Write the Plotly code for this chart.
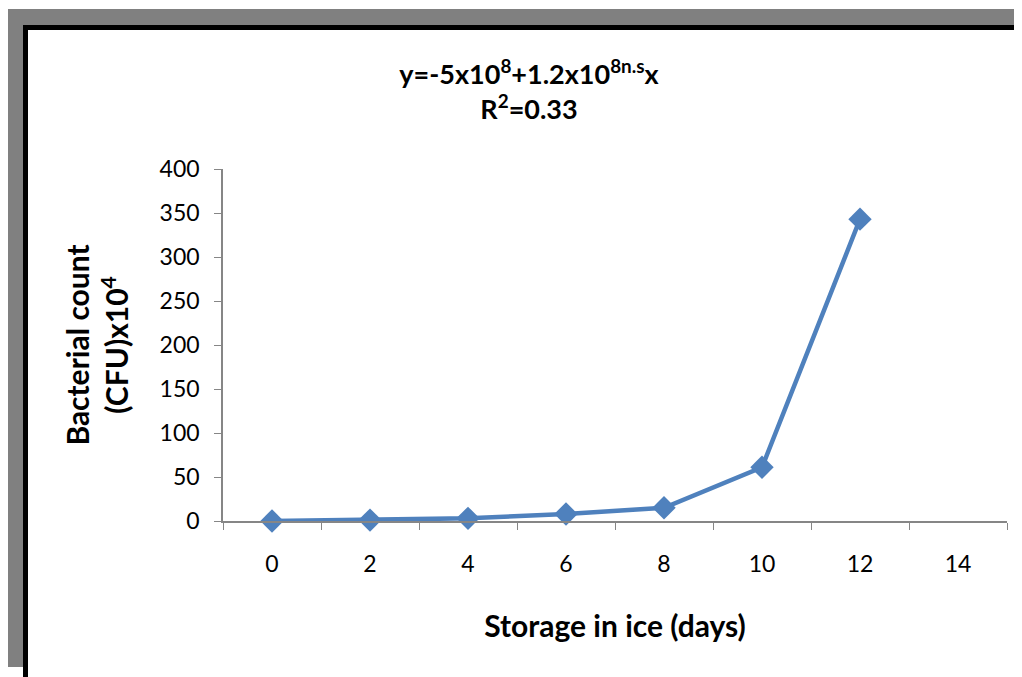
import plotly.graph_objects as go

days = ["0", "2", "4", "6", "8", "10", "12", "14"]
counts = [0, 1, 3, 8, 15, 61, 343, None]
y_ticks = [0, 50, 100, 150, 200, 250, 300, 350, 400]

# page is offset by the browser's 8px body margin
OFF = 8
PAGE_W, PAGE_H = 1022, 677
W, H = PAGE_W - OFF, PAGE_H - OFF
# plot area in page pixels
L, R, T, B = 223, 1007, 169, 521


def px(x):
    return (x - L) / (R - L)


def py(y):
    return (B - y) / (B - T)


blue = "#4F81BD"
axis_col = "#868686"
font = "Lato"

fig = go.Figure()
fig.add_trace(go.Scatter(
    x=days, y=counts, mode="lines+markers",
    line=dict(color=blue, width=4.5),
    marker=dict(symbol="diamond", size=18, color=blue),
    connectgaps=False, showlegend=False, cliponaxis=False,
))

shapes = [
    dict(type="rect", xref="paper", yref="paper", x0=px(7), x1=px(1019), y0=py(667), y1=py(9),
         fillcolor="#808080", line=dict(width=0), layer="below"),
    dict(type="rect", xref="paper", yref="paper", x0=px(23), x1=px(1040), y0=py(700), y1=py(25),
         fillcolor="black", line=dict(width=0), layer="below"),
    dict(type="rect", xref="paper", yref="paper", x0=px(28), x1=px(1040), y0=py(700), y1=py(30),
         fillcolor="white", line=dict(width=0), layer="below"),
]

fig.update_layout(
    width=W, height=H,
    margin=dict(l=L - OFF, r=PAGE_W - R, t=T - OFF, b=PAGE_H - B, pad=0),
    paper_bgcolor="white", plot_bgcolor="rgba(0,0,0,0)",
    font=dict(family=font, color="black", size=23),
    shapes=shapes,
    title=dict(
        text="<b>y=-5x10<sup>8</sup>+1.2x10<sup>8n.s</sup>x<br>R<sup>2</sup>=0.33</b>",
        x=(529 - OFF) / W, xanchor="center", xref="container",
        y=1 - (84 - OFF) / H, yanchor="middle", yref="container",
        font=dict(size=27, family=font, color="black"),
    ),
    xaxis=dict(
        type="category", categoryorder="array", categoryarray=days,
        tickson="boundaries", ticks="outside", ticklen=7, tickcolor=axis_col,
        ticklabelstandoff=22,
        showline=True, linecolor=axis_col, linewidth=1.5, showgrid=False, zeroline=False,
        tickfont=dict(size=23, family=font, color="black"),
        title=dict(text="<b>Storage in ice (days)</b>", standoff=40,
                   font=dict(size=30, family=font, color="black")),
        range=[-0.5, 7.5],
    ),
    yaxis=dict(
        range=[0, 400], tickvals=y_ticks, ticks="outside", ticklen=7, tickcolor=axis_col,
        ticklabelstandoff=10,
        showline=True, linecolor=axis_col, linewidth=1.5, showgrid=False, zeroline=False,
        tickfont=dict(size=23, family=font, color="black"),
        title=dict(text="<b>Bacterial count<br>(CFU)x10<sup>4</sup></b>", standoff=22,
                   font=dict(size=30, family=font, color="black")),
    ),
)

fig.write_html("out.html")
